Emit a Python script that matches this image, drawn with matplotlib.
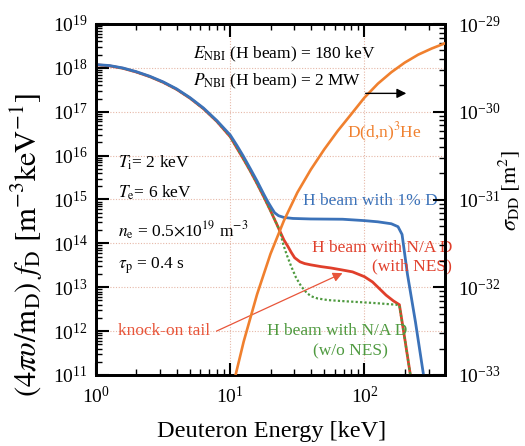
import matplotlib
matplotlib.use('Agg')
import matplotlib.pyplot as plt
from matplotlib.ticker import LogLocator, NullFormatter, LogFormatterSciNotation

plt.rcParams['font.family'] = ['Liberation Serif', 'DejaVu Serif']
plt.rcParams['mathtext.fontset'] = 'stix'

# ---------------- data ----------------
# thermal part + H beam with N/A D (with NES)  [E in keV, f in m^-3 keV^-1]
e_red = [1.0, 1.259, 1.585, 1.995, 2.512, 3.162, 3.981, 5.012, 6.310, 7.943,
         10.0, 11.22, 12.59, 14.13, 15.85, 17.78, 19.95, 22.39, 23.44,
         25.1, 26.9, 28.5, 30.2, 33.1, 35.8, 39.8, 47.6, 56.2, 67.1, 81.5,
         100.0, 114.8, 144.9, 164.0, 182.0, 199.5, 219.8]
f_red = [1.175e18, 1.11e18, 9.77e17, 8.04e17, 6.31e17, 4.68e17, 3.24e17,
         2.04e17, 1.175e17, 6.03e16, 2.69e16, 1.48e16, 8.2e15, 4.42e15,
         2.29e15, 1.15e15, 5.56e14, 2.6e14, 1.9e14,
         1.2e14, 8.5e13, 6.2e13, 4.7e13, 3.8e13, 3.47e13, 3.24e13, 2.95e13,
         2.75e13, 2.5e13, 2.24e13, 1.74e13, 1.32e13, 6.6e12, 4.9e12, 4.0e12,
         6.8e11, 1.0e11]

# H beam with N/A D (w/o NES)
e_grn = [1.0, 1.259, 1.585, 1.995, 2.512, 3.162, 3.981, 5.012, 6.310, 7.943,
         10.0, 11.22, 12.59, 14.13, 15.85, 17.78, 19.95, 22.39, 23.44,
         24.7, 26.3, 28.5, 30.9, 33.8, 37.2, 40.2, 44.7, 53.3, 71.0, 114.8,
         172.9, 182.0, 199.5, 219.8]
f_grn = [1.175e18, 1.11e18, 9.77e17, 8.04e17, 6.31e17, 4.68e17, 3.24e17,
         2.04e17, 1.175e17, 6.03e16, 2.69e16, 1.48e16, 8.2e15, 4.42e15,
         2.29e15, 1.15e15, 5.56e14, 2.6e14, 1.9e14,
         1.0e14, 5.6e13, 2.95e13, 1.66e13, 1.05e13, 7.4e12, 6.2e12, 5.56e12,
         5.1e12, 4.8e12, 4.4e12, 4.0e12, 3.8e12, 6.8e11, 1.0e11]

# H beam with 1% D
e_blu = [1.0, 1.259, 1.585, 1.995, 2.512, 3.162, 3.981, 5.012, 6.310, 7.943,
         10.0, 11.22, 12.45, 14.13, 15.85, 17.78, 19.05, 20.4, 21.4, 22.9,
         25.1, 29.3, 39.8, 68.7, 100.0, 125.9, 158.5, 177.8, 190.5, 208.9,
         239.9, 275.4, 290.0]
f_blu = [1.19e18, 1.13e18, 9.95e17, 8.2e17, 6.45e17, 4.8e17, 3.33e17,
         2.1e17, 1.22e17, 6.3e16, 2.95e16, 1.7e16, 1.0e16, 5.0e15, 2.63e15,
         1.32e15, 8.9e14, 6.3e14, 5.0e14, 4.27e14, 3.9e14, 3.7e14, 3.6e14,
         3.55e14, 3.3e14, 3.1e14, 2.8e14, 2.4e14, 1.6e14, 2.0e13, 1.6e12,
         1.0e11, 4.0e10]

# D(d,n)3He cross section [E in keV, sigma in m^2]
e_dd = [10.96, 12.59, 15.85, 19.95, 25.12, 31.62, 39.81, 50.12, 63.10, 79.43,
        100.0, 125.9, 158.5, 199.5, 251.2, 316.2, 398.1]
s_dd = [1.0e-33, 2.40e-33, 8.32e-33, 2.40e-32, 5.75e-32, 1.20e-31, 2.19e-31,
        3.72e-31, 6.03e-31, 9.33e-31, 1.45e-30, 2.09e-30, 2.82e-30, 3.63e-30,
        4.47e-30, 5.25e-30, 6.03e-30]

x_ticks = [1, 10, 100]
y_left_ticks = [1e11, 1e12, 1e13, 1e14, 1e15, 1e16, 1e17, 1e18, 1e19]
y_right_ticks = [1e-33, 1e-32, 1e-31, 1e-30, 1e-29]

# ---------------- colours ----------------
c_blue = '#3b72b9'
c_red = '#e03f2b'
c_orange = '#f0802e'
c_green = '#4f9a40'
c_grid = '#e6b8a8'

W, H = 525, 446
fig = plt.figure(figsize=(W / 100, H / 100), dpi=100)
ax = fig.add_axes([96 / W, 1 - 375 / H, 349 / W, 351 / H])

ax.set_xscale('log')
ax.set_yscale('log')
ax.set_xlim(1, 398)
ax.set_ylim(1e11, 1e19)

ax.plot(e_red, f_red, color=c_red, lw=2.0, zorder=3)
ax.plot(e_grn, f_grn, color=c_green, lw=1.6, ls=(0, (1, 1)), zorder=4)
ax.plot(e_blu, f_blu, color=c_blue, lw=2.0, zorder=5)

ax.set_xticks(x_ticks)
ax.set_yticks(y_left_ticks)
ax.xaxis.set_minor_locator(LogLocator(base=10, subs=range(2, 10), numticks=20))
ax.yaxis.set_minor_locator(LogLocator(base=10, subs=range(2, 10), numticks=40))
ax.xaxis.set_minor_formatter(NullFormatter())
ax.yaxis.set_minor_formatter(NullFormatter())
ax.xaxis.set_major_formatter(LogFormatterSciNotation())
ax.yaxis.set_major_formatter(LogFormatterSciNotation())

ax.grid(True, which='major', color=c_grid, ls=(0, (1, 1.5)), lw=0.8, zorder=0)

ax.tick_params(which='major', direction='in', length=9, width=1.5,
               top=True, right=False, labelsize=14, pad=6)
ax.tick_params(axis='x', which='major', pad=8)
ax.tick_params(which='minor', direction='in', length=4.5, width=1.0,
               top=True, right=False)
for s in ax.spines.values():
    s.set_linewidth(2.0)

ax2 = ax.twinx()
ax2.set_yscale('log')
ax2.set_ylim(1e-33, 1e-29)
ax2.plot(e_dd, s_dd, color=c_orange, lw=1.9, zorder=3)
ax2.set_yticks(y_right_ticks)
ax2.yaxis.set_minor_locator(LogLocator(base=10, subs=range(2, 10), numticks=40))
ax2.yaxis.set_minor_formatter(NullFormatter())
ax2.yaxis.set_major_formatter(LogFormatterSciNotation())
ax2.tick_params(which='major', direction='in', length=9, width=1.5,
                labelsize=14, pad=9)
ax2.tick_params(which='minor', direction='in', length=4.5, width=1.0)
for s in ax2.spines.values():
    s.set_linewidth(2.0)

# ---------------- labels ----------------
fig.text(272 / W, 1 - 431 / H, 'Deuteron Energy [keV]', ha='center', va='center',
         fontsize=17.5)
fig.text(27 / W, 1 - 245 / H,
         r'$(4\pi\upsilon/\mathrm{m}_\mathrm{D})\ f_\mathrm{D}\ [\mathrm{m}^{-3}\mathrm{keV}^{-1}]$',
         rotation=90, ha='center', va='center', fontsize=22)
fig.text(509 / W, 1 - 190 / H, r'$\sigma_\mathrm{DD}\ [\mathrm{m}^2]$',
         rotation=90, ha='center', va='center', fontsize=16)

tfs = 12.5
tr = ax.transAxes
ax.text(0.278, 0.903, r'$E_\mathrm{NBI}$ (H beam) = 180 keV', transform=tr,
        fontsize=tfs, va='baseline', ha='left')
ax.text(0.278, 0.826, r'$P_\mathrm{NBI}$ (H beam) = 2 MW', transform=tr,
        fontsize=tfs, va='baseline', ha='left')
ax.text(0.063, 0.590, r'$T_\mathrm{i}$= 2 keV', transform=tr,
        fontsize=tfs, va='baseline', ha='left')
ax.text(0.063, 0.504, r'$T_\mathrm{e}$= 6 keV', transform=tr,
        fontsize=tfs, va='baseline', ha='left')
ax.text(0.063, 0.393, r'$n_\mathrm{e}$ = 0.5$\times$10$^{19}$ m$^{-3}$', transform=tr,
        fontsize=tfs, va='baseline', ha='left')
ax.text(0.063, 0.302, r'$\tau_\mathrm{p}$ = 0.4 s', transform=tr,
        fontsize=tfs, va='baseline', ha='left')
ax.text(0.719, 0.675, r'D(d,n)$^3$He', transform=tr, color=c_orange,
        fontsize=tfs, va='baseline', ha='left')
ax.text(0.98, 0.484, 'H beam with 1% D', transform=tr, color=c_blue,
        fontsize=tfs, va='baseline', ha='right', zorder=6)
ax.text(1.02, 0.350, 'H beam with N/A D', transform=tr, color=c_red,
        fontsize=tfs, va='baseline', ha='right', zorder=6)
ax.text(1.02, 0.299, '(with NES)', transform=tr, color=c_red,
        fontsize=tfs, va='baseline', ha='right', zorder=6)
ax.text(0.49, 0.114, 'H beam with N/A D', transform=tr, color=c_green,
        fontsize=tfs, va='baseline', ha='left', zorder=6)
ax.text(0.622, 0.057, '(w/o NES)', transform=tr, color=c_green,
        fontsize=tfs, va='baseline', ha='left', zorder=6)
ax.text(0.063, 0.114, 'knock-on tail', transform=tr, color='#e8553a',
        fontsize=tfs, va='baseline', ha='left', zorder=6)

# arrows
ax.annotate('', xy=(68.6, 2.1e13), xytext=(7.9, 1.0e12),
            arrowprops=dict(arrowstyle='-|>', color='#e8553a', lw=0.9,
                            mutation_scale=14, shrinkA=0, shrinkB=0), zorder=6)
ax2.annotate('', xy=(205, 1.62e-30), xytext=(102, 1.62e-30),
             arrowprops=dict(arrowstyle='-|>', color='black', lw=1.0,
                             mutation_scale=14, shrinkA=0, shrinkB=0))

fig.savefig('out.png', dpi=100)
